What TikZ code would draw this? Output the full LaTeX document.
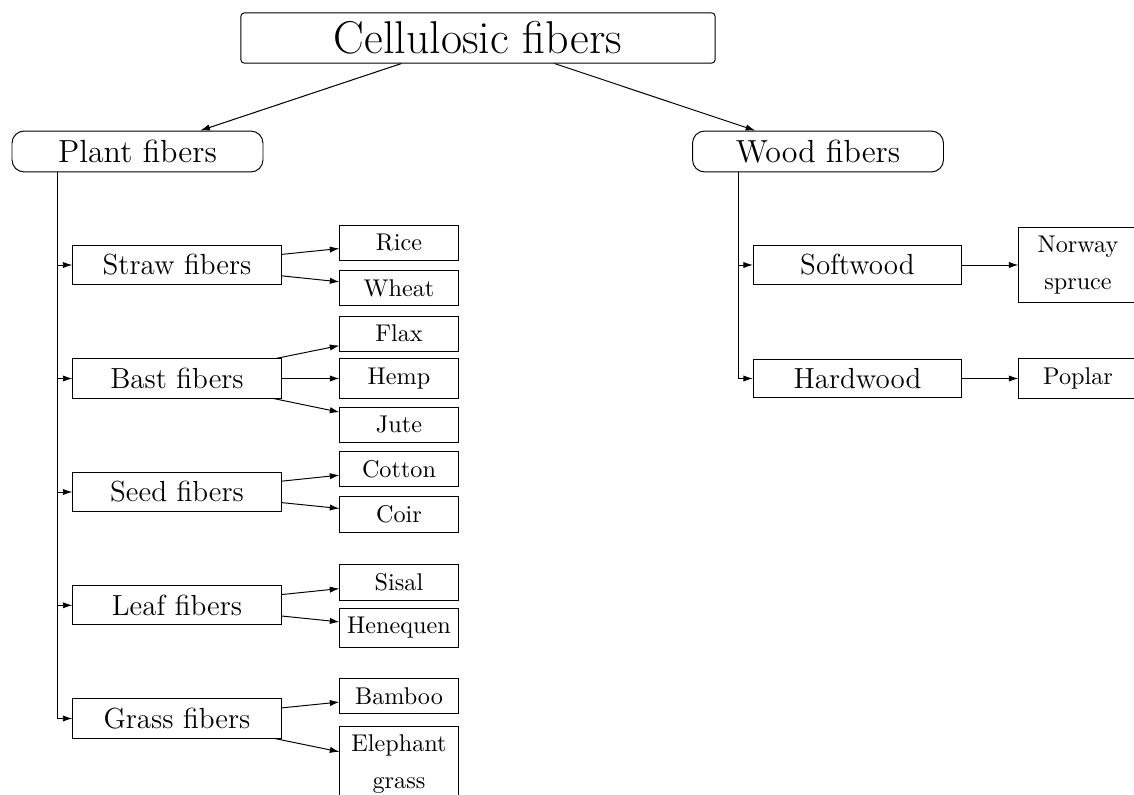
\documentclass[tikz,border=0pt]{standalone}
\usetikzlibrary{arrows.meta,calc}
\begin{document}
\begin{tikzpicture}[x=0.4132pt,y=-0.4132pt,
  arr/.style={-{Latex[length=4pt,width=2.6pt]}},
  topbox/.style={draw,rounded corners=1.3pt,minimum width=195.9pt,minimum height=20.7pt,inner sep=0pt,font=\fontsize{19}{23}\selectfont},
  lvlone/.style={draw,rounded corners=5pt,minimum width=103.7pt,minimum height=16.9pt,inner sep=0pt,font=\fontsize{13.2}{16}\selectfont},
  lvltwo/.style={draw,minimum width=86pt,inner xsep=2pt,inner ysep=3.8pt,font=\large},
  leafbox/.style={draw,minimum width=48.8pt,inner xsep=2pt,inner ysep=3.7pt,align=center,font=\fontsize{10}{15}\selectfont}
]
\useasboundingbox (0,0) rectangle (1134,794);

\node[topbox] (title) at (478,38) {Cellulosic fibers};
\node[lvlone] (plant) at (137.5,151.5) {Plant fibers};
\node[lvlone] (wood) at (818,151.5) {Wood fibers};

\node[lvltwo] (straw) at (177,265) {Straw fibers};
\node[lvltwo] (bast) at (177,378.5) {Bast fibers};
\node[lvltwo] (seed) at (177,492) {Seed fibers};
\node[lvltwo] (leaf) at (177,605.3) {Leaf fibers};
\node[lvltwo] (grass) at (177,718.5) {Grass fibers};
\node[lvltwo] (soft) at (857.5,265) {Softwood};
\node[lvltwo] (hard) at (857.5,378.5) {Hardwood};

\node[leafbox] (rice) at (399,242.5) {Rice};
\node[leafbox] (wheat) at (399,288) {Wheat};
\node[leafbox] (flax) at (399,333.5) {Flax};
\node[leafbox] (hemp) at (399,378.5) {Hemp};
\node[leafbox] (jute) at (399,424.5) {Jute};
\node[leafbox] (cotton) at (399,469) {Cotton};
\node[leafbox] (coir) at (399,514.5) {Coir};
\node[leafbox] (sisal) at (399,582.5) {Sisal};
\node[leafbox] (heneq) at (399,628) {Henequen};
\node[leafbox] (bamboo) at (399,696) {Bamboo};
\node[leafbox] (eleph) at (399,764) {Elephant\\grass};
\node[leafbox] (norway) at (1078,265) {Norway\\spruce};
\node[leafbox] (poplar) at (1078,378.5) {Poplar};

\draw[arr] (title) -- (plant);
\draw[arr] (title) -- (wood);

\coordinate (pl) at ($(plant.south west)+(46,0)$);
\coordinate (wd) at ($(wood.south west)+(46,0)$);
\foreach \n in {straw,bast,seed,leaf,grass} \draw[arr] (pl) |- (\n.west);
\foreach \n in {soft,hard} \draw[arr] (wd) |- (\n.west);

\draw[arr] (straw) -- (rice);
\draw[arr] (straw) -- (wheat);
\draw[arr] (bast) -- (flax);
\draw[arr] (bast) -- (hemp);
\draw[arr] (bast) -- (jute);
\draw[arr] (seed) -- (cotton);
\draw[arr] (seed) -- (coir);
\draw[arr] (leaf) -- (sisal);
\draw[arr] (leaf) -- (heneq);
\draw[arr] (grass) -- (bamboo);
\draw[arr] (grass) -- (eleph);
\draw[arr] (soft) -- (norway);
\draw[arr] (hard) -- (poplar);
\end{tikzpicture}
\end{document}
